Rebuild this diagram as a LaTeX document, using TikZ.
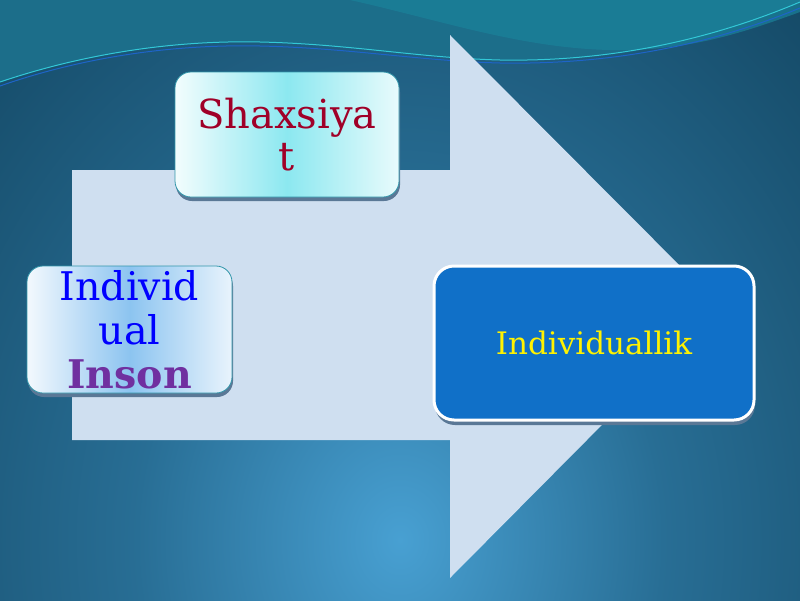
\documentclass[tikz,border=0pt]{standalone}
\usepackage{fontspec}
\setmainfont{DejaVu Serif}
\usetikzlibrary{shadows}
\definecolor{bgdark}{RGB}{6,34,48}
\definecolor{bgmid}{RGB}{26,88,122}
\definecolor{bglight}{RGB}{72,160,210}
\definecolor{wavea}{RGB}{28,110,138}
\definecolor{waveb}{RGB}{26,130,155}
\definecolor{linecyan}{RGB}{50,200,215}
\definecolor{lineblue}{RGB}{30,100,200}
\definecolor{arrowfill}{RGB}{207,223,240}
\definecolor{cyanmid}{RGB}{140,232,240}
\definecolor{bluemid}{RGB}{140,196,240}
\definecolor{shaxred}{RGB}{160,0,40}
\definecolor{insonpurple}{RGB}{112,48,160}
\definecolor{boxblue}{RGB}{16,112,200}
\definecolor{tealborder}{RGB}{50,150,170}
\definecolor{shadowc}{RGB}{90,120,150}
\pgfdeclareradialshading{bgshade}{\pgfpoint{0bp}{0bp}}{color(0bp)=(bglight); color(8bp)=(bgmid!70!bglight); color(18bp)=(bgmid!75!bgdark); color(25bp)=(bgdark); color(50bp)=(bgdark)}
\pgfdeclarehorizontalshading{shaxshade}{100bp}{color(0bp)=(white); color(22bp)=(white); color(50bp)=(cyanmid); color(78bp)=(white!90!cyanmid); color(100bp)=(white)}
\pgfdeclarehorizontalshading{indshade}{100bp}{color(0bp)=(white); color(22bp)=(white); color(50bp)=(bluemid); color(78bp)=(white!90!bluemid); color(100bp)=(white)}
\tikzset{
  lightbox/.style={rounded corners=16pt, draw=tealborder, line width=0.8pt, align=center,
    drop shadow={shadow xshift=1pt, shadow yshift=-4pt, fill=shadowc, opacity=1}},
  bluebox/.style={rounded corners=20pt, draw=white, line width=3pt, fill=boxblue, align=center,
    drop shadow={shadow xshift=1pt, shadow yshift=-5pt, fill=shadowc, opacity=1}}
}
\begin{document}
\begin{tikzpicture}[x=1pt,y=-1pt]
\useasboundingbox (0,0) rectangle (800,600);
% background
\fill[bgdark] (0,0) rectangle (800,600);
\begin{scope}
\clip (0,0) rectangle (800,600);
\shade[shading=bgshade] (400,540) ellipse (830 and 1000);
% waves
\fill[wavea] (0,0) -- (0,82) .. controls (80,55) and (170,40) .. (260,42)
  .. controls (350,44) and (420,58) .. (500,60) .. controls (610,62) and (710,40) .. (800,2) -- (800,0) -- cycle;
\fill[waveb, opacity=0.7] (350,0) .. controls (440,20) and (520,48) .. (610,50)
  .. controls (690,52) and (750,30) .. (800,12) -- (800,0) -- cycle;
\draw[linecyan, line width=1pt] (0,82) .. controls (80,55) and (170,40) .. (260,42)
  .. controls (350,44) and (420,58) .. (500,60) .. controls (610,62) and (710,40) .. (800,2);
\draw[lineblue, line width=1pt] (0,86) .. controls (80,58) and (170,44) .. (260,46)
  .. controls (350,48) and (420,61) .. (500,63) .. controls (610,65) and (710,45) .. (800,8);
\end{scope}
% big arrow
\fill[arrowfill] (72,170) -- (450,170) -- (450,35) -- (720,306) -- (450,578) -- (450,440) -- (72,440) -- cycle;
% boxes
\node[lightbox, shading=shaxshade, minimum width=224pt, minimum height=125pt, inner sep=0pt,
  font=\fontsize{40}{42}\selectfont, text=shaxred] (shax) at (287,134.5) {Shaxsiya\\t};
\node[lightbox, shading=indshade, minimum width=205pt, minimum height=127pt, inner sep=0pt,
  font=\fontsize{39.5}{44}\selectfont, text=blue] (ind) at (129.5,329.5) {Individ\\ual\\{\color{insonpurple}\bfseries Inson}};
\node[bluebox, minimum width=320pt, minimum height=154pt, inner sep=0pt,
  font=\fontsize{31}{36}\selectfont, text=yellow] (indl) at (594,343) {Individuallik};
\end{tikzpicture}
\end{document}
